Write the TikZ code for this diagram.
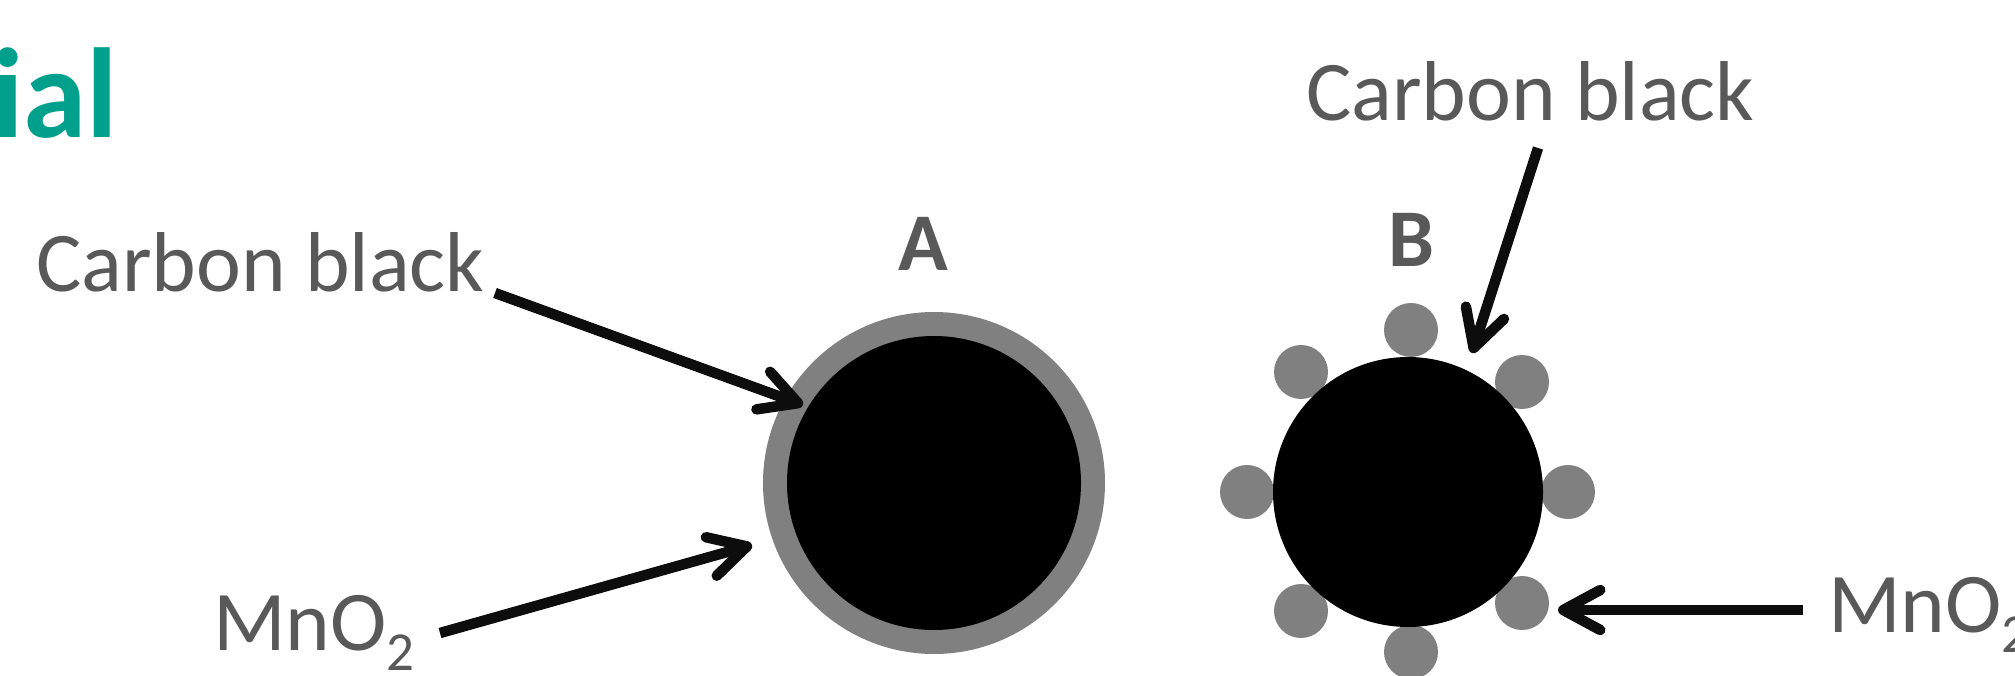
\documentclass[tikz,border=0pt]{standalone}
\usepackage{fontspec}
\setmainfont{Carlito}
\usetikzlibrary{arrows.meta}
\definecolor{txtgray}{HTML}{595959}
\definecolor{titleteal}{RGB}{0,160,140}
\definecolor{shellgray}{HTML}{808080}
\definecolor{arrowblk}{HTML}{0D0D0D}
\begin{document}
\begin{tikzpicture}[x=1pt,y=-1pt,
  lbl/.style={inner sep=0pt, text=txtgray, font=\fontsize{85}{100}\selectfont, anchor=base west},
  letter/.style={inner sep=0pt, text=txtgray, font=\fontsize{82}{96}\selectfont\bfseries, anchor=base},
  ptr/.style={draw=arrowblk, line width=10.5pt, -{Straight Barb[round,length=37pt,width=40pt]}},
  shell/.style={circle, fill=shellgray, inner sep=0pt, minimum size=342pt},
  core/.style={circle, fill=black, inner sep=0pt},
  dot/.style={circle, fill=shellgray, inner sep=0pt, minimum size=54pt}]
\useasboundingbox (0,0) rectangle (2015,676);
\fill[white] (0,0) rectangle (2015,676);
% title fragment
\node[anchor=base west, inner sep=0pt, text=titleteal, font=\fontsize{128}{150}\selectfont\bfseries] (title) at (-8,138) {ial};
% labels
\node[lbl] (cbA) at (36,291) {Carbon black};
\node[lbl] (cbB) at (1306,121) {Carbon black};
\node[lbl] (mnA) at (213,650) {MnO\raisebox{-20pt}{\fontsize{55}{60}\selectfont 2}};
\node[lbl] (mnB) at (1828,632) {MnO\raisebox{-20pt}{\fontsize{55}{60}\selectfont 2}};
\node[letter] (labA) at (923,271) {A};
\node[letter] (labB) at (1411,267) {B};
% particle A
\node[shell] (shellA) at (934,483) {};
\node[core, minimum size=294pt] (coreA) at (934,483) {};
% particle B
\foreach \n/\x/\y in {1/1411/330, 2/1301/372, 3/1522/382, 4/1247/492, 5/1568/492, 6/1301/611, 7/1522/603, 8/1411/652}
  \node[dot] (d\n) at (\x,\y) {};
\node[core, minimum size=270pt] (coreB) at (1408,492) {};
% arrow ends
\coordinate (sCA) at (495,293);
\coordinate (tCA) at (803,405);
\coordinate (sMA) at (440,633);
\coordinate (tMA) at (752,545);
\coordinate (sCB) at (1538,148);
\coordinate (tCB) at (1472,353);
\coordinate (sMB) at (1803,610);
\coordinate (tMB) at (1558,610);
\draw[ptr] (sCA) -- (tCA);
\draw[ptr] (sMA) -- (tMA);
\draw[ptr] (sCB) -- (tCB);
\draw[ptr] (sMB) -- (tMB);
\end{tikzpicture}
\end{document}
